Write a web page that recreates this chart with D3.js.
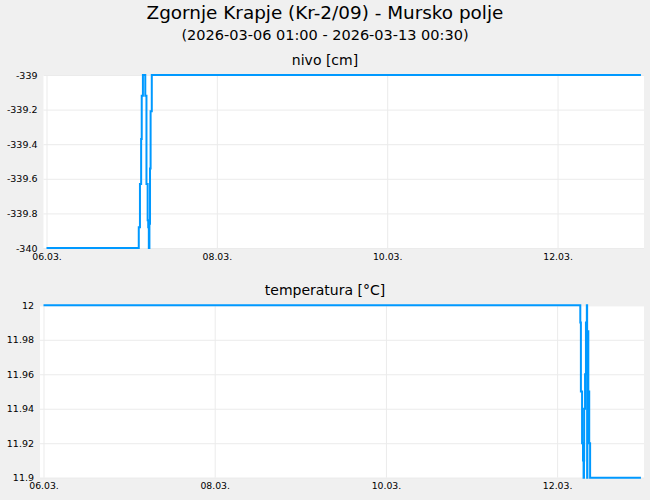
<!DOCTYPE html>
<html>
<head>
<meta charset="utf-8">
<script src="https://cdn.jsdelivr.net/npm/d3@7"></script>
<style>
  body { margin: 0; background: #f0f0f0; }
  svg { display: block; font-family: "DejaVu Sans", sans-serif; }
</style>
</head>
<body>
<div id="chart"></div>
<script>
// times are UTC (axis is in UTC, subtitle in local time)
const nivoTimes = [
  '2026-03-06 00:00', '2026-03-07 02:00', '2026-03-07 02:20', '2026-03-07 02:40',
  '2026-03-07 02:50', '2026-03-07 03:10', '2026-03-07 03:50', '2026-03-07 04:10',
  '2026-03-07 04:30', '2026-03-07 04:40', '2026-03-07 04:50', '2026-03-07 05:00',
  '2026-03-07 05:10', '2026-03-07 05:20', '2026-03-07 05:40', '2026-03-12 23:30'
];
const nivoValues = [
  -340, -339.88, -339.63, -339.37,
  -339.12, -339, -339.12, -339.63,
  -339.84, -339.88, -340, -339.86,
  -339.54, -339.21, -339, -339
];

const tempTimes = [
  '2026-03-06 00:00', '2026-03-12 06:30', '2026-03-12 06:40', '2026-03-12 07:00',
  '2026-03-12 07:15', '2026-03-12 07:25', '2026-03-12 07:32', '2026-03-12 07:35',
  '2026-03-12 07:50', '2026-03-12 08:05', '2026-03-12 08:20', '2026-03-12 08:25',
  '2026-03-12 08:30', '2026-03-12 08:45', '2026-03-12 09:00', '2026-03-12 09:15',
  '2026-03-12 23:30'
];
const tempValues = [
  12, 11.99, 11.95, 11.92,
  11.91, 11.9, 11.91, 11.94,
  11.96, 11.99, 12, 11.9,
  11.985, 11.95, 11.92, 11.9,
  11.9
];

const xTicks = ['2026-03-06 00:00', '2026-03-08 00:00', '2026-03-10 00:00', '2026-03-12 00:00'];
const xDomain = ['2026-03-06 00:00', '2026-03-13 00:30'];
const nivoTicks = [-340, -339.8, -339.6, -339.4, -339.2, -339];
const tempTicks = [11.9, 11.92, 11.94, 11.96, 11.98, 12];

const width = 650;
const height = 500;
const parse = d3.utcParse('%Y-%m-%d %H:%M');

const svg = d3.select('#chart')
  .append('svg')
  .attr('width', width)
  .attr('height', height);

svg.append('rect').attr('width', width).attr('height', height).attr('fill', '#f0f0f0');

svg.append('text')
  .attr('x', 325).attr('y', 19)
  .attr('text-anchor', 'middle')
  .attr('font-size', '18.4px')
  .text('Zgornje Krapje (Kr-2/09) - Mursko polje');

svg.append('text')
  .attr('x', 325).attr('y', 40)
  .attr('text-anchor', 'middle')
  .attr('font-size', '14.5px')
  .text('(2026-03-06 01:00 - 2026-03-13 00:30)');

function panel(p) {
  const x = d3.scaleUtc()
    .domain(xDomain.map(parse))
    .range([p.x0, p.x1]);

  const y = d3.scaleLinear()
    .domain(d3.extent(p.ticks))
    .range([p.bottom, p.top]);

  svg.append('text')
    .attr('x', 325).attr('y', p.titleY)
    .attr('text-anchor', 'middle')
    .attr('font-size', '14px')
    .text(p.title);

  svg.append('rect')
    .attr('x', p.left).attr('y', p.top)
    .attr('width', p.right - p.left)
    .attr('height', p.bottom - p.top)
    .attr('fill', '#fff');

  // vertical grid
  svg.append('g')
    .attr('transform', `translate(0,${p.bottom})`)
    .call(d3.axisBottom(x).tickValues(xTicks.map(parse)).tickSize(-(p.bottom - p.top)).tickFormat(''))
    .call(g => g.select('.domain').remove())
    .selectAll('line').attr('stroke', '#ebebeb');

  // horizontal grid
  svg.append('g')
    .attr('transform', `translate(${p.left},0)`)
    .call(d3.axisLeft(y).tickValues(p.ticks).tickSize(-(p.right - p.left)).tickFormat(''))
    .call(g => g.select('.domain').remove())
    .selectAll('line').attr('stroke', '#ebebeb');

  //Y-AXIS labels
  svg.append('g')
    .attr('transform', `translate(${p.left},0)`)
    .call(d3.axisLeft(y).tickValues(p.ticks).tickSize(0).tickPadding(6)
      .tickFormat(d => String(+d.toFixed(p.digits))))
    .call(g => g.select('.domain').remove())
    .selectAll('text')
    .attr('font-size', '9.5px')
    .attr('font-family', '"DejaVu Sans", sans-serif')
    .attr('fill', '#000');

  //X-AXIS labels
  svg.append('g')
    .attr('transform', `translate(0,${p.bottom})`)
    .call(d3.axisBottom(x).tickValues(xTicks.map(parse)).tickSize(0).tickPadding(5)
      .tickFormat(d3.utcFormat('%d.%m.')))
    .call(g => g.select('.domain').remove())
    .selectAll('text')
    .attr('font-size', '9.3px')
    .attr('font-family', '"DejaVu Sans", sans-serif')
    .attr('fill', '#000');

  const pts = p.times.map((t, i) => [parse(t), p.values[i]]);
  svg.append('path')
    .datum(pts)
    .attr('fill', 'none')
    .attr('stroke', '#0099ff')
    .attr('stroke-width', 2)
    .attr('d', d3.line()
      .curve(d3.curveStepAfter)
      .x(d => x(d[0]))
      .y(d => y(d[1])));
}

panel({
  title: 'nivo [cm]', titleY: 65,
  left: 43.5, right: 644, top: 75, bottom: 248,
  x0: 46.5, x1: 644.5,
  ticks: nivoTicks, digits: 1,
  times: nivoTimes, values: nivoValues
});

panel({
  title: 'temperatura [°C]', titleY: 295,
  left: 40, right: 644, top: 305.3, bottom: 477.7,
  x0: 43.5, x1: 644.5,
  ticks: tempTicks, digits: 2,
  times: tempTimes, values: tempValues
});
</script>
</body>
</html>
